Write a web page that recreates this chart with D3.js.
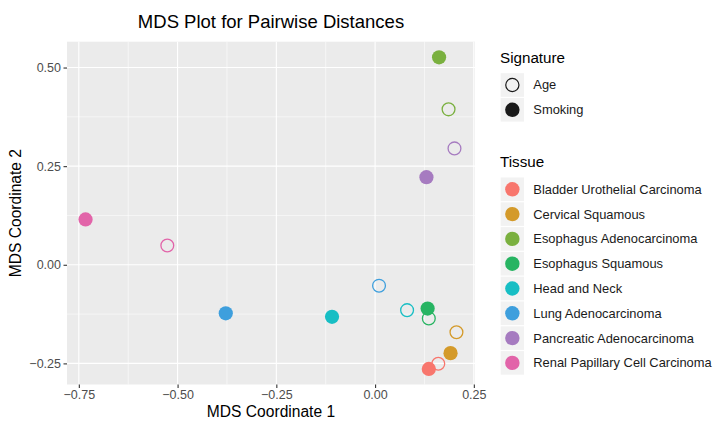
<!DOCTYPE html>
<html>
<head>
<meta charset="utf-8">
<script src="https://cdn.jsdelivr.net/npm/d3@7"></script>
<style>
  html, body { margin: 0; padding: 0; background: #fff; }
  svg { display: block; font-family: "Liberation Sans", Arial, Helvetica, sans-serif; }
</style>
</head>
<body>
<svg id="chart" width="720" height="431"></svg>
<script>
// ---- Data ----
const tissues = ["Bladder Urothelial Carcinoma", "Cervical Squamous", "Esophagus Adenocarcinoma",
  "Esophagus Squamous", "Head and Neck", "Lung Adenocarcinoma", "Pancreatic Adenocarcinoma",
  "Renal Papillary Cell Carcinoma"];
const signatures = ["Age", "Smoking"];
const tissueColors = ["#F8766D", "#D49A2A", "#7AB03F", "#27B462", "#17BEC4", "#3E9FDD", "#A67BC0", "#E264A9"];
// Coordinates per tissue (same order as tissues)
const ageX     = [0.160, 0.206, 0.186, 0.136, 0.081, 0.010, 0.201, -0.526];
const ageY     = [-0.251, -0.171, 0.394, -0.136, -0.115, -0.053, 0.295, 0.049];
const smokingX = [0.136, 0.191, 0.162, 0.133, -0.109, -0.378, 0.130, -0.733];
const smokingY = [-0.264, -0.224, 0.526, -0.111, -0.132, -0.123, 0.222, 0.115];
const xTicks = [-0.75, -0.50, -0.25, 0.00, 0.25];
const yTicks = [-0.25, 0.00, 0.25, 0.50];
const xMinor = [-0.625, -0.375, -0.125, 0.125];
const yMinor = [-0.125, 0.125, 0.375];

const points = [];
tissues.forEach((t, i) => points.push({tissue: t, sig: "Age", x: ageX[i], y: ageY[i]}));
tissues.forEach((t, i) => points.push({tissue: t, sig: "Smoking", x: smokingX[i], y: smokingY[i]}));

// ---- Layout ----
const svg = d3.select("#chart");
const panel = {left: 67, right: 475, top: 41.7, bottom: 384.5};

const xs = d3.extent(points, d => d.x), ys = d3.extent(points, d => d.y);
const xPad = (xs[1] - xs[0]) * 0.05, yPad = (ys[1] - ys[0]) * 0.05;
const x = d3.scaleLinear().domain([xs[0] - xPad, xs[1] + xPad]).range([panel.left, panel.right]);
const y = d3.scaleLinear().domain([ys[0] - yPad, ys[1] + yPad]).range([panel.bottom, panel.top]);
const color = d3.scaleOrdinal().domain(tissues).range(tissueColors);

svg.append("rect").attr("x", panel.left).attr("y", panel.top)
  .attr("width", panel.right - panel.left).attr("height", panel.bottom - panel.top)
  .attr("fill", "#EBEBEB");

const grid = svg.append("g");
grid.selectAll(".xminor").data(xMinor).join("line")
  .attr("x1", d => x(d)).attr("x2", d => x(d)).attr("y1", panel.top).attr("y2", panel.bottom)
  .attr("stroke", "#fff").attr("stroke-width", 0.55);
grid.selectAll(".yminor").data(yMinor).join("line")
  .attr("y1", d => y(d)).attr("y2", d => y(d)).attr("x1", panel.left).attr("x2", panel.right)
  .attr("stroke", "#fff").attr("stroke-width", 0.55);
grid.selectAll(".xmajor").data(xTicks.filter(d => x(d) <= panel.right)).join("line")
  .attr("x1", d => x(d)).attr("x2", d => x(d)).attr("y1", panel.top).attr("y2", panel.bottom)
  .attr("stroke", "#fff").attr("stroke-width", 1.1);
grid.selectAll(".ymajor").data(yTicks).join("line")
  .attr("y1", d => y(d)).attr("y2", d => y(d)).attr("x1", panel.left).attr("x2", panel.right)
  .attr("stroke", "#fff").attr("stroke-width", 1.1);

// Axes
const fmt = d3.format(".2f");
const minusFmt = d => fmt(d).replace("-", "\u2212");
const xAxis = svg.append("g").attr("transform", `translate(0,${panel.bottom})`)
  .call(d3.axisBottom(x).tickValues(xTicks).tickFormat(minusFmt).tickSize(3.5).tickPadding(2.5));
const yAxis = svg.append("g").attr("transform", `translate(${panel.left},0)`)
  .call(d3.axisLeft(y).tickValues(yTicks).tickFormat(minusFmt).tickSize(3.5).tickPadding(2.5));
[xAxis, yAxis].forEach(a => {
  a.select(".domain").remove();
  a.selectAll(".tick line").attr("stroke", "#333").attr("stroke-width", 1.1);
  a.selectAll(".tick text").attr("fill", "#4D4D4D").style("font-size", "12.5px")
    .style("font-family", "'Liberation Sans', Arial, sans-serif");
});

// Points
svg.append("g").selectAll("circle").data(points).join("circle")
  .attr("cx", d => x(d.x)).attr("cy", d => y(d.y))
  .attr("r", d => d.sig === "Age" ? 6.4 : 7.1)
  .attr("fill", d => d.sig === "Age" ? "none" : color(d.tissue))
  .attr("stroke", d => d.sig === "Age" ? color(d.tissue) : "none")
  .attr("stroke-width", 1.3);

// Titles
svg.append("text").attr("x", (panel.left + panel.right) / 2).attr("y", 28).attr("text-anchor", "middle")
  .style("font-size", "18.5px").attr("fill", "#000").text("MDS Plot for Pairwise Distances");
svg.append("text").attr("x", (panel.left + panel.right) / 2).attr("y", 417).attr("text-anchor", "middle")
  .style("font-size", "15.6px").attr("fill", "#000").text("MDS Coordinate 1");
svg.append("text").attr("transform", `translate(21,${(panel.top + panel.bottom) / 2}) rotate(-90)`)
  .attr("text-anchor", "middle").style("font-size", "15.6px").attr("fill", "#000").text("MDS Coordinate 2");

// Legends
const keyX = 500.7, keyW = 23.3, keyH = 24.8;
const leg = svg.append("g");
leg.append("text").attr("x", 500).attr("y", 63).style("font-size", "15.2px").text("Signature");
const sigRows = leg.selectAll(".sig").data(signatures).join("g")
  .attr("transform", (d, i) => `translate(${keyX},${85 - keyH / 2 + i * keyH})`);
sigRows.append("rect").attr("width", keyW).attr("height", keyH - 1.2).attr("y", 0.6).attr("fill", "#F2F2F2");
sigRows.append("circle").attr("cx", keyW / 2).attr("cy", keyH / 2).attr("r", d => d === "Age" ? 6.6 : 7.2)
  .attr("fill", d => d === "Age" ? "none" : "#1A1A1A")
  .attr("stroke", d => d === "Age" ? "#1A1A1A" : "none").attr("stroke-width", 1.2);
sigRows.append("text").attr("x", 32.6).attr("y", keyH / 2 + 4.5).style("font-size", "12.9px")
  .attr("fill", "#1A1A1A").text(d => d);

leg.append("text").attr("x", 500).attr("y", 167).style("font-size", "15.2px").text("Tissue");
const tisRows = leg.selectAll(".tis").data(tissues).join("g")
  .attr("transform", (d, i) => `translate(${keyX},${189.3 - keyH / 2 + i * keyH})`);
tisRows.append("rect").attr("width", keyW).attr("height", keyH - 1.2).attr("y", 0.6).attr("fill", "#F2F2F2");
tisRows.append("circle").attr("cx", keyW / 2).attr("cy", keyH / 2).attr("r", 7.2).attr("fill", d => color(d));
tisRows.append("text").attr("x", 32.6).attr("y", keyH / 2 + 4.5).style("font-size", "12.9px")
  .attr("fill", "#1A1A1A").text(d => d);
</script>
</body>
</html>
